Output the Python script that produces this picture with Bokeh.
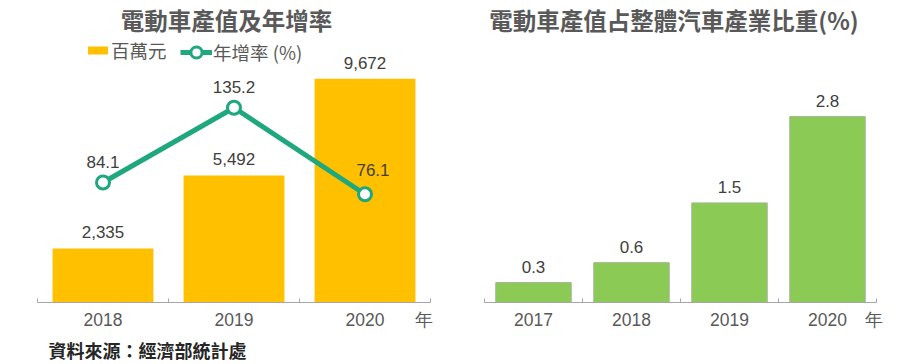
from bokeh.plotting import figure
from bokeh.models import Range1d, FixedTicker, Label, Legend, LegendItem, Title
from bokeh.layouts import row
from bokeh.embed import file_html
from bokeh.resources import INLINE
from bokeh.core.properties import value
import numpy as np

# ---------------- data ----------------
ev_years = ["2018", "2019", "2020"]
ev_output = [2335, 5492, 9672]        # 百萬元
ev_growth = [84.1, 135.2, 76.1]       # 年增率 (%)

share_years = ["2017", "2018", "2019", "2020"]
share_pct = [0.3, 0.6, 1.5, 2.8]      # 占整體汽車產業比重 (%)

title_left = "電動車產值及年增率"
title_right = "電動車產值占整體汽車產業比重(%)"
legend_bar = "百萬元"
legend_line = "年增率 (%)"
year_unit = "年"
source_note = "資料來源：經濟部統計處"

# ---------------- style ----------------
LATIN = "Liberation Sans"
CJK = "Noto Sans CJK TC"
YELLOW = "#FFC000"
TEAL = "#1FA77D"
GREEN = "#8BCB55"
AXIS = "#A6A6A6"
GRAY = "#595959"
DARK = "#404040"


def base_fig(years, y_end, left, right, unit_inset):
    n = len(years)
    p = figure(width=450, height=364,
               x_range=Range1d(-0.5, n - 0.5), y_range=Range1d(0, y_end),
               output_backend="svg", toolbar_location=None, title=None,
               y_axis_location=None,
               min_border_left=left, min_border_right=right,
               min_border_top=0, min_border_bottom=62)
    p.outline_line_color = None
    p.grid.visible = False
    ax = p.xaxis[0]
    unit_pos = n - 0.5 - unit_inset
    ax.ticker = FixedTicker(ticks=list(range(n)) + [unit_pos],
                            minor_ticks=[i - 0.5 for i in range(n + 1)])
    overrides = {i: y for i, y in enumerate(years)}
    overrides[unit_pos] = year_unit
    ax.major_label_overrides = overrides
    ax.major_tick_line_color = None
    ax.minor_tick_in = 4
    ax.minor_tick_out = 0
    ax.minor_tick_line_color = AXIS
    ax.axis_line_color = AXIS
    ax.major_label_text_font = LATIN
    ax.major_label_text_font_size = "17.5px"
    ax.major_label_text_color = GRAY
    ax.major_label_standoff = 1
    return p


def legend_box(items, loc, gw, gh):
    return Legend(items=items, orientation="horizontal", location=loc,
                  border_line_color=None, background_fill_alpha=0,
                  padding=0, margin=0, spacing=0, label_standoff=1,
                  glyph_width=gw, glyph_height=gh,
                  label_text_font=CJK, label_text_font_size="18.5px",
                  label_text_color=GRAY)


# ---------------- left chart ----------------
p1 = base_fig(ev_years, 13058, 37, 20, 0.05)
x1 = np.arange(len(ev_years))
bars = p1.vbar(x=x1, top=ev_output, width=0.77, fill_color=YELLOW, line_color=None)
p1.text(x=x1, y=ev_output, text=[f"{v:,}" for v in ev_output],
        text_align="center", text_baseline="middle", y_offset=-16,
        text_font=value(LATIN), text_font_size="17px", text_color=DARK)

p1.extra_y_ranges = {"growth": Range1d(2.1, 208.5)}
gline = p1.line(x=x1, y=ev_growth, y_range_name="growth",
                line_color=TEAL, line_width=5)
gpts = p1.scatter(x=x1, y=ev_growth, y_range_name="growth", size=13,
                  fill_color="white", line_color=TEAL, line_width=3)
p1.text(x=x1[:2], y=ev_growth[:2], text=[f"{v:.1f}" for v in ev_growth[:2]],
        y_range_name="growth", text_align="center", text_baseline="middle",
        y_offset=-21, text_font=value(LATIN), text_font_size="17px", text_color=DARK)
p1.text(x=x1[2:], y=ev_growth[2:], text=[f"{v:.1f}" for v in ev_growth[2:]],
        y_range_name="growth", text_align="center", text_baseline="middle",
        x_offset=8, y_offset=-24, text_font=value(LATIN), text_font_size="17px",
        text_color=DARK)

p1.add_layout(legend_box([LegendItem(label=legend_bar, renderers=[bars])],
                         (48, 239), 25, 10))
p1.add_layout(legend_box([LegendItem(label=legend_line, renderers=[gline, gpts])],
                         (143, 236), 32, 28))

p1.add_layout(Label(x=189, y=283, x_units="screen", y_units="screen",
                    text=title_left, text_align="center", text_baseline="middle",
                    text_font=CJK, text_font_size="23.5px", text_font_style="bold",
                    text_color=GRAY))
p1.add_layout(Title(text=source_note, align="left", offset=11, standoff=4,
                    text_font=CJK, text_font_size="18px", text_font_style="bold",
                    text_color="#262626"), "below")

# ---------------- right chart ----------------
p2 = base_fig(share_years, 4.548, 34, 24, 0.03)
x2 = np.arange(len(share_years))
p2.vbar(x=x2, top=share_pct, width=0.77, fill_color=GREEN,
        line_color="#A3B596", line_width=1)
p2.text(x=x2, y=share_pct, text=[f"{v:.1f}" for v in share_pct],
        text_align="center", text_baseline="middle", y_offset=-16,
        text_font=value(LATIN), text_font_size="17px", text_color=DARK)
p2.add_layout(Label(x=189.5, y=283, x_units="screen", y_units="screen",
                    text=title_right, text_align="center", text_baseline="middle",
                    text_font=CJK, text_font_size="23.5px", text_font_style="bold",
                    text_color=GRAY))

layout = row(p1, p2)
open("out.html", "w").write(file_html(layout, INLINE))
